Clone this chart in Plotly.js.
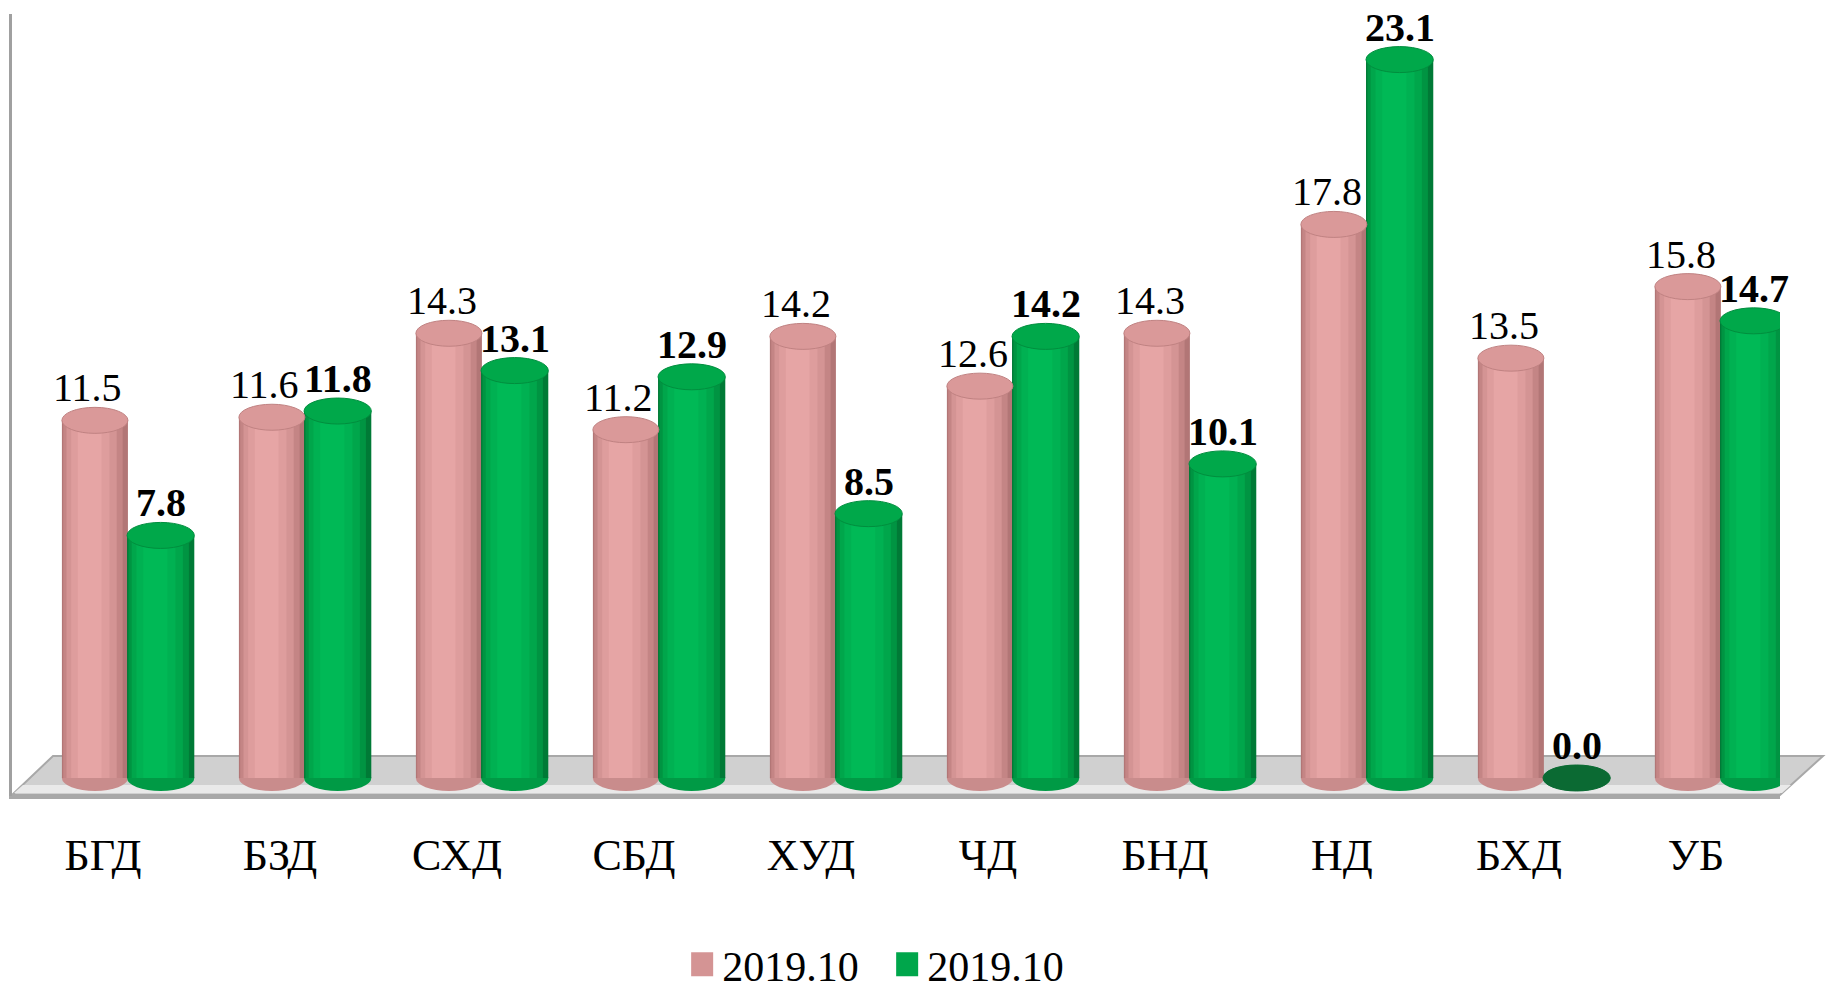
<!DOCTYPE html>
<html>
<head>
<meta charset="utf-8">
<script src="https://cdn.plot.ly/plotly-3.0.1.min.js"></script>
<style>
  html, body { margin: 0; padding: 0; background: #ffffff; }
  #chart { width: 1827px; height: 991px; }
</style>
</head>
<body>
<div id="chart"></div>
<script>
// ---- data ----
const categories = ['БГД', 'БЗД', 'СХД', 'СБД', 'ХУД', 'ЧД', 'БНД', 'НД', 'БХД', 'УБ'];
const seriesA = [11.5, 11.6, 14.3, 11.2, 14.2, 12.6, 14.3, 17.8, 13.5, 15.8];
const seriesB = [7.8, 11.8, 13.1, 12.9, 8.5, 14.2, 10.1, 23.1, 0.0, 14.7];
const seriesNames = ['2019.10', '2019.10'];

// ---- layout constants ----
const W = 1827, H = 991;
const M = { l: 12, r: 47, t: 14, b: 195, autoexpand: false };
const yRange = [-0.579, 24.566];
const xRange = [-0.514, 9.475];
const plotH = H - M.t - M.b;
const pxPerUnit = plotH / (yRange[1] - yRange[0]);
const capH = 26 / pxPerUnit;  // cylinder cap height in data units

const styles = [
  { offset: -0.232, width: 0.373, bold: false, labelShift: -7,
    layers: [
      { f: 1.00, c: 0.50, color: '#b27676' },
      { f: 0.90, c: 0.47, color: '#c48585' },
      { f: 0.76, c: 0.45, color: '#d49494' },
      { f: 0.58, c: 0.43, color: '#de9d9d' },
      { f: 0.36, c: 0.42, color: '#e6a5a5' }
    ],
    legendLayer: 2,
    cap: '#da9999', capLine: '#c08282', foot: '#c98c8c', zeroCap: '#a06060' },
  { offset: 0.136, width: 0.38, bold: true, labelShift: 0,
    layers: [
      { f: 1.00, c: 0.50, color: '#007a36' },
      { f: 0.90, c: 0.47, color: '#009442' },
      { f: 0.76, c: 0.45, color: '#00a64b' },
      { f: 0.58, c: 0.43, color: '#00b152' },
      { f: 0.36, c: 0.42, color: '#00b956' }
    ],
    legendLayer: 2,
    cap: '#00a84a', capLine: '#008e3e', foot: '#009a45', zeroCap: '#0b6a33' }
];

const allSeries = [seriesA, seriesB];
const traces = [];
const shapes = [];
const annotations = [];

// floor (paper coordinates)
const pw = W - M.l - M.r;
const px2x = p => (p - M.l) / pw;
const py2y = p => (H - M.b - p) / plotH;
shapes.push({
  type: 'path', xref: 'paper', yref: 'paper', layer: 'below',
  path: `M ${px2x(12)} ${py2y(795)} L ${px2x(53)} ${py2y(756)} L ${px2x(1823)} ${py2y(756)} L ${px2x(1780)} ${py2y(795)} Z`,
  fillcolor: '#d0d0d0', line: { color: '#a8a8a8', width: 2 }
});
shapes.push({
  type: 'path', xref: 'paper', yref: 'paper', layer: 'below',
  path: `M ${px2x(14)} ${py2y(793)} L ${px2x(23)} ${py2y(785)} L ${px2x(1791)} ${py2y(785)} L ${px2x(1782)} ${py2y(793)} Z`,
  fillcolor: '#e9e9e9', line: { width: 0 }
});

allSeries.forEach((vals, s) => {
  const st = styles[s];
  // bottom ellipses (feet), drawn under the bars
  vals.forEach((v, i) => {
    shapes.push({
      type: 'circle', xref: 'x', yref: 'y', layer: 'below',
      x0: i + st.offset, x1: i + st.offset + st.width,
      y0: -capH / 2, y1: capH / 2,
      fillcolor: st.foot, line: { width: 0 }
    });
  });
  st.layers.forEach((ly, k) => {
    const w = st.width * ly.f;
    const off = st.offset + st.width * ly.c - w / 2;
    traces.push({
      type: 'bar', x: categories, y: vals, name: seriesNames[s],
      offset: off, width: w,
      marker: { color: ly.color, line: { width: 0 } },
      showlegend: k === st.legendLayer,
      legendgroup: 's' + s,
      hoverinfo: 'skip'
    });
  });
});

// caps and labels on top
allSeries.forEach((vals, s) => {
  const st = styles[s];
  vals.forEach((v, i) => {
    shapes.push({
      type: 'circle', xref: 'x', yref: 'y', layer: 'above',
      x0: i + st.offset, x1: i + st.offset + st.width,
      y0: v - capH / 2, y1: v + capH / 2,
      fillcolor: v === 0 ? st.zeroCap : st.cap,
      line: { color: v === 0 ? st.zeroCap : st.capLine, width: 1 }
    });
    const txt = v.toFixed(1);
    annotations.push({
      x: i + st.offset + st.width / 2, y: v, xref: 'x', yref: 'y',
      text: st.bold ? '<b>' + txt + '</b>' : txt,
      showarrow: false, xanchor: 'center', yanchor: 'bottom',
      yshift: 8, xshift: st.labelShift,
      font: { family: 'Liberation Serif', size: 40, color: '#000000' }
    });
  });
});

const layout = {
  width: W, height: H,
  margin: M,
  paper_bgcolor: '#ffffff', plot_bgcolor: 'rgba(0,0,0,0)',
  barmode: 'overlay',
  showlegend: true,
  legend: {
    orientation: 'h', x: 0.495, xanchor: 'center', y: -0.172, yanchor: 'top',
    font: { family: 'Liberation Serif', size: 42, color: '#000000' },
    entrywidth: 160,
    traceorder: 'normal', itemclick: false, itemdoubleclick: false
  },
  xaxis: {
    type: 'category', range: xRange, showgrid: false, zeroline: false,
    showline: true, linecolor: '#a8a8a8', linewidth: 3,
    ticks: '', ticklabelstandoff: 18, automargin: false,
    tickfont: { family: 'Liberation Serif', size: 44, color: '#000000' },
    fixedrange: true
  },
  yaxis: {
    range: yRange, showgrid: false, zeroline: false, automargin: false,
    showline: true, linecolor: '#a0a0a0', linewidth: 3,
    showticklabels: false, ticks: '', fixedrange: true
  },
  shapes: shapes,
  annotations: annotations
};

Plotly.newPlot('chart', traces, layout, { displayModeBar: false, staticPlot: true }).then(gd => {
  // enlarge the legend swatches to match the original's bigger squares
  gd.querySelectorAll('.legend .legendpoints path').forEach(p => {
    p.setAttribute('d', 'M11,12H-11V-12H11Z');
  });
});
</script>
</body>
</html>
